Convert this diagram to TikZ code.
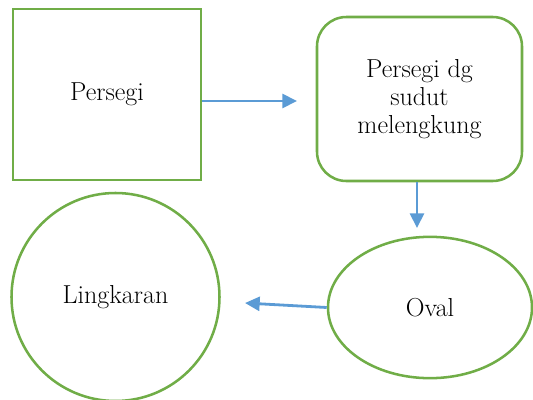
\documentclass[tikz,border=0pt]{standalone}
\usepackage{tikz}
\usetikzlibrary {arrows.meta,
                 positioning,
                 shapes.geometric}
\definecolor{kotakhijau}{HTML}{70AD47}
\definecolor{panahbiru}{HTML}{5B9BD5}
\tikzset{
         bentuk/.style={draw=kotakhijau, line width=1.9pt, align=center, font=\fontsize{19.5}{21}\selectfont},
         panah/.style={-{Triangle[length=11pt, width=10.5pt]}, draw=panahbiru, line width=2.1pt},
}

\begin{document}
\begin{tikzpicture}[x=0.75pt, y=-0.75pt]
    \useasboundingbox (0,0) rectangle (533,400);

    % Bentuk
    \node[bentuk, rectangle, minimum width=141pt, minimum height=128pt] (persegi) at (107,94.5) {Persegi};
    \node[bentuk, rectangle, rounded corners=22pt, minimum width=153.75pt, minimum height=123pt] (lengkung) at (419.5,99) {Persegi dg\\sudut\\melengkung};
    \node[bentuk, ellipse, minimum width=153pt, minimum height=106pt, inner sep=0pt] (oval) at (430,307.5) {Oval};
    \node[bentuk, circle, minimum size=156pt, inner sep=0pt] (lingkaran) at (115.5,297) {Lingkaran};

    % Panah
    \coordinate (p1) at (297,101);
    \coordinate (p2) at (417,228);
    \coordinate (p3) at (245,303);
    \draw[panah] (persegi.east |- p1) -- (p1);
    \draw[panah] (lengkung.south -| p2) -- (p2);
    \draw[panah] (oval.west) -- (p3);

\end{tikzpicture}
\end{document}
